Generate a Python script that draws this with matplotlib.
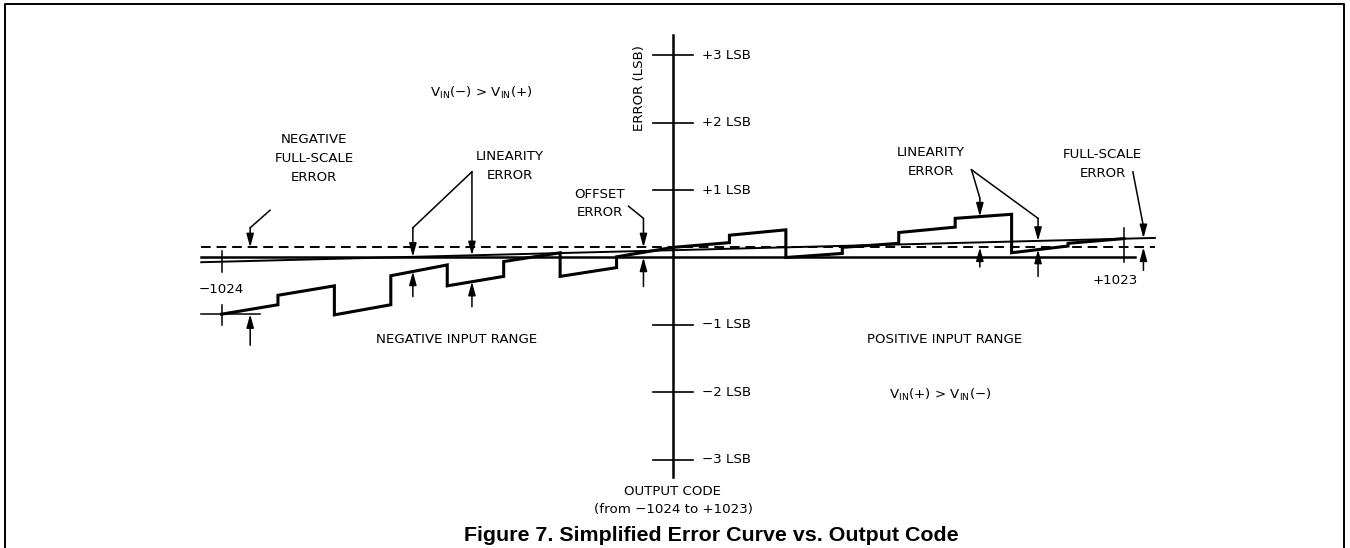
import matplotlib.pyplot as plt
import numpy as np
from matplotlib.lines import Line2D

# Courbe d'erreur simplifiee : code de sortie (x) / erreur en LSB (y)
seg_edges = [-1024, -896, -768, -640, -512, -384, -256, -128, 0,
             128, 256, 384, 512, 640, 768, 896, 1023]
stair_start = [-0.84, -0.56, -0.85, -0.27, -0.42, -0.06, -0.28, 0.01,
               0.15, 0.33, 0.00, 0.15, 0.37, 0.58, 0.07, 0.21]
stair_end = [-0.70, -0.42, -0.70, -0.11, -0.28, 0.07, -0.15, 0.15,
             0.22, 0.41, 0.06, 0.21, 0.45, 0.64, 0.17, 0.28]

# droite reelle (pente = erreur de pleine echelle), offset, droite ideale
line_codes = [-1070, 1093]
fullscale_line = [-0.07, 0.29]
offset_codes = [-1070, 1093]
offset_level = 0.15
ideal_codes = [-1070, 1048]

lsb_ticks = [3, 2, 1, -1, -2, -3]
lsb_labels = ['+3 LSB', '+2 LSB', '+1 LSB', '\u22121 LSB', '\u22122 LSB', '\u22123 LSB']

plt.rcParams['font.family'] = ['DejaVu Sans']
FS = 9.6


def stair_at(c):
    i = int(np.searchsorted(seg_edges, c, side='right')) - 1
    i = min(max(i, 0), len(stair_start) - 1)
    t = (c - seg_edges[i]) / (seg_edges[i + 1] - seg_edges[i])
    return stair_start[i] + t * (stair_end[i] - stair_start[i])


def line_at(c):
    return float(np.interp(c, line_codes, fullscale_line))


def arrow(ax, path):
    xs, ys = zip(*path)
    if len(path) > 2:
        ax.plot(xs[:-1], ys[:-1], color='k', lw=1.1)
    ax.annotate('', xy=path[-1], xytext=path[-2],
                arrowprops=dict(arrowstyle='-|>,head_length=0.8,head_width=0.22',
                                lw=1.1, color='k', shrinkA=0, shrinkB=0))


fig = plt.figure(figsize=(13.5, 5.48), dpi=100)
ax = fig.add_axes([0, 0, 1, 1])
ax.set_xlim(-1526.4, 1535.5)
ax.set_ylim(-4.304, 3.815)
ax.axis('off')

# cadre
fig.add_artist(Line2D([5 / 1350, 5 / 1350, 1344 / 1350, 1344 / 1350],
                      [0, 1 - 4 / 548, 1 - 4 / 548, 0], color='k', lw=1.4))

# axe vertical et graduations
ax.plot([0, 0], [-3.25, 3.30], color='k', lw=1.8)
for v, lab in zip(lsb_ticks, lsb_labels):
    ax.plot([-45, 45], [v, v], color='k', lw=1.2)
    ax.text(66, v, lab, ha='left', va='center', fontsize=FS)
ax.text(-75, 2.51, 'ERROR (LSB)', rotation=90, ha='center', va='center', fontsize=FS)

# droites
ax.plot(ideal_codes, [0, 0], color='k', lw=1.8)
ax.plot(offset_codes, [offset_level, offset_level], color='k', lw=1.4, dashes=(5, 3))
ax.plot(line_codes, fullscale_line, color='k', lw=1.4)

# escalier
sx, sy = [], []
for i in range(len(stair_start)):
    sx += [seg_edges[i], seg_edges[i + 1]]
    sy += [stair_start[i], stair_end[i]]
ax.plot(sx, sy, color='k', lw=2.2, solid_joinstyle='miter')

# reperes -1024 / +1023
c0 = seg_edges[0]
ax.plot([c0, c0], [0.09, -0.21], color='k', lw=1.1)
ax.plot([c0, c0], [-0.70, -1.00], color='k', lw=1.1)
ax.plot([-1070, -937], [stair_start[0], stair_start[0]], color='k', lw=1.1)
ax.text(c0, -0.48, '\u22121024', ha='center', va='center', fontsize=FS)
c1 = seg_edges[-1]
ax.plot([c1, c1], [0.44, -0.06], color='k', lw=1.1)
ax.text(1002, -0.34, '+1023', ha='center', va='center', fontsize=FS)

# erreur de pleine echelle negative
arrow(ax, [(-914, 0.70), (-959, 0.44), (-959, offset_level)])
arrow(ax, [(-959, -1.30), (-959, stair_start[0])])
for y, t in [(1.75, 'NEGATIVE'), (1.46, 'FULL-SCALE'), (1.19, 'ERROR')]:
    ax.text(-814, y, t, ha='center', va='center', fontsize=FS)

# erreur de linearite (cote negatif)
arrow(ax, [(-456, 1.27), (-590, 0.44), (-590, line_at(-590))])
arrow(ax, [(-456, 1.27), (-456, line_at(-456))])
arrow(ax, [(-590, -0.58), (-590, stair_at(-590))])
arrow(ax, [(-456, -0.73), (-456, stair_at(-456))])
ax.text(-370, 1.50, 'LINEARITY', ha='center', va='center', fontsize=FS)
ax.text(-370, 1.22, 'ERROR', ha='center', va='center', fontsize=FS)

# erreur d'offset
arrow(ax, [(-101, 0.76), (-67, 0.58), (-67, offset_level)])
arrow(ax, [(-67, -0.43), (-67, 0)])
ax.text(-166, 0.93, 'OFFSET', ha='center', va='center', fontsize=FS)
ax.text(-166, 0.66, 'ERROR', ha='center', va='center', fontsize=FS)

# erreur de linearite (cote positif)
arrow(ax, [(677, 1.30), (696, 0.88), (696, stair_at(696))])
arrow(ax, [(677, 1.30), (828, 0.58), (828, line_at(828))])
arrow(ax, [(696, -0.14), (696, offset_level)])
arrow(ax, [(828, -0.28), (828, stair_at(828))])
ax.text(585, 1.55, 'LINEARITY', ha='center', va='center', fontsize=FS)
ax.text(585, 1.27, 'ERROR', ha='center', va='center', fontsize=FS)

# erreur de pleine echelle
arrow(ax, [(1043, 1.27), (1067, 0.46), (1067, line_at(1067))])
arrow(ax, [(1067, -0.19), (1067, offset_level)])
ax.text(975, 1.52, 'FULL-SCALE', ha='center', va='center', fontsize=FS)
ax.text(975, 1.25, 'ERROR', ha='center', va='center', fontsize=FS)

# textes des zones
ax.text(-491, -1.21, 'NEGATIVE INPUT RANGE', ha='center', va='center', fontsize=FS)
ax.text(617, -1.21, 'POSITIVE INPUT RANGE', ha='center', va='center', fontsize=FS)
ax.text(-434, 2.44, r'V$_{\mathrm{IN}}$(\u2212) > V$_{\mathrm{IN}}$(+)'.replace('\\u2212', '\u2212'),
        ha='center', va='center', fontsize=FS)
ax.text(606, -2.04, r'V$_{\mathrm{IN}}$(+) > V$_{\mathrm{IN}}$(\u2212)'.replace('\\u2212', '\u2212'),
        ha='center', va='center', fontsize=FS)
ax.text(0, -3.47, 'OUTPUT CODE', ha='center', va='center', fontsize=FS)
ax.text(0, -3.73, '(from \u22121024 to +1023)', ha='center', va='center', fontsize=FS)

fig.text(711.5 / 1350, 1 - 541 / 548, 'Figure 7. Simplified Error Curve vs. Output Code',
         ha='center', va='baseline', fontsize=15.4, fontweight='bold',
         family=['Liberation Sans', 'DejaVu Sans'])

plt.savefig('out.png', dpi=100)
plt.close(fig)
